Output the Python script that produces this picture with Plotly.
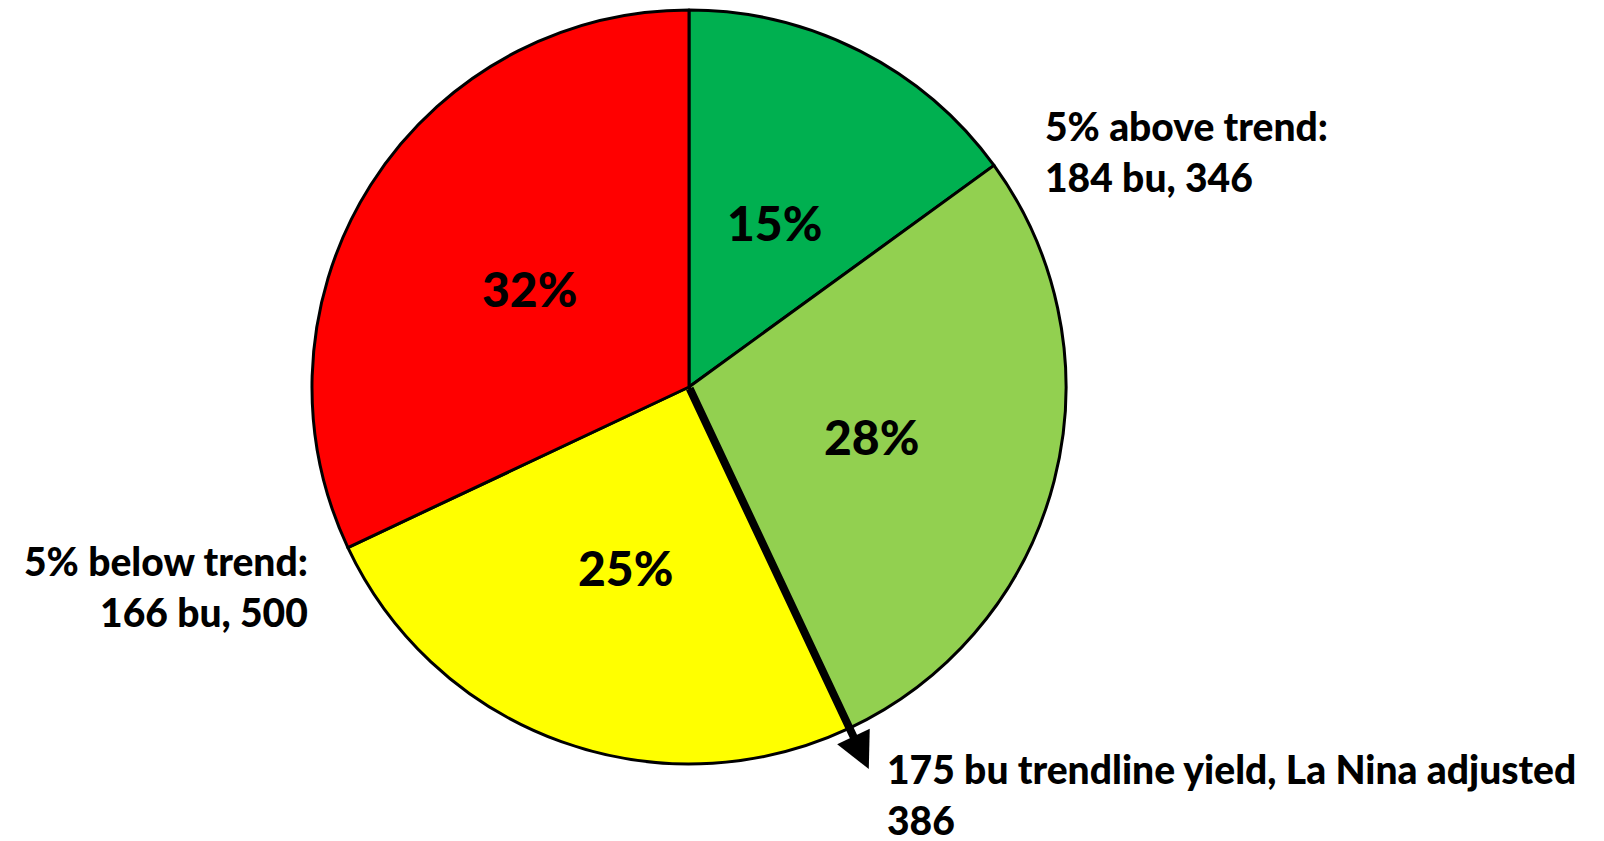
import math
import plotly.graph_objects as go

# Probability split of yield outcomes (clockwise from 12 o'clock)
outcomes = ["5% above trend", "Above trendline", "Below trendline", "5% below trend"]
shares = [15, 28, 25, 32]
colors = ["#00B050", "#92D050", "#FFFF00", "#FF0000"]

above_note = "5% above trend:<br>184 bu, 346"
below_note = "5% below trend:<br>166 bu, 500"
trend_note = "175 bu trendline yield, La Nina adjusted<br>386"
trend_boundary = 2  # slices before the trendline marker

W, H = 1604, 841
cx, cy, R = 689, 387, 377

FONT = "Lato"
WEIGHT = 900

fig = go.Figure(
    go.Pie(
        labels=outcomes,
        values=shares,
        sort=False,
        direction="clockwise",
        rotation=0,
        marker=dict(colors=colors, line=dict(color="black", width=3)),
        textinfo="none",
        hoverinfo="label+percent",
        domain=dict(x=[(cx - R) / W, (cx + R) / W], y=[1 - (cy + R) / H, 1 - (cy - R) / H]),
        showlegend=False,
    )
)


def to_px(angle_deg, frac):
    a = math.radians(angle_deg)
    return cx + frac * R * math.sin(a), cy - frac * R * math.cos(a)


# percentage labels at the middle of each slice
total = sum(shares)
start = 0.0
for v in shares:
    span = v / total * 360
    px, py = to_px(start + span / 2, 0.5)
    fig.add_annotation(
        x=px / W, y=1 - py / H, xref="paper", yref="paper", showarrow=False,
        xanchor="center", yanchor="middle", yshift=-3,
        text=f"{round(v / total * 100)}%",
        font=dict(family=FONT, size=48, color="black", weight=WEIGHT),
    )
    start += span

# trendline marker arrow along the boundary between the two middle slices
edge_angle = sum(shares[:trend_boundary]) / total * 360
tip_px, tip_py = to_px(edge_angle, 1.12)
fig.add_annotation(
    x=tip_px / W, y=1 - tip_py / H, xref="paper", yref="paper",
    ax=cx - tip_px, ay=cy - tip_py, axref="pixel", ayref="pixel",
    text="", showarrow=True, arrowhead=2, arrowsize=0.9, arrowwidth=8,
    arrowcolor="black", standoff=0,
)

side_font = dict(family=FONT, size=39, color="black", weight=WEIGHT)
fig.add_annotation(x=1043 / W, y=1 - 151 / H, xref="paper", yref="paper",
                   xanchor="left", yanchor="middle", align="left",
                   showarrow=False, text=above_note, font=side_font)
fig.add_annotation(x=310 / W, y=1 - 586 / H, xref="paper", yref="paper",
                   xanchor="right", yanchor="middle", align="right",
                   showarrow=False, text=below_note, font=side_font)
fig.add_annotation(x=885 / W, y=1 - 794 / H, xref="paper", yref="paper",
                   xanchor="left", yanchor="middle", align="left",
                   showarrow=False, text=trend_note, font=side_font)

fig.update_layout(
    width=W, height=H,
    margin=dict(l=0, r=0, t=0, b=0),
    paper_bgcolor="white", plot_bgcolor="white",
)

fig.write_html("out.html")
